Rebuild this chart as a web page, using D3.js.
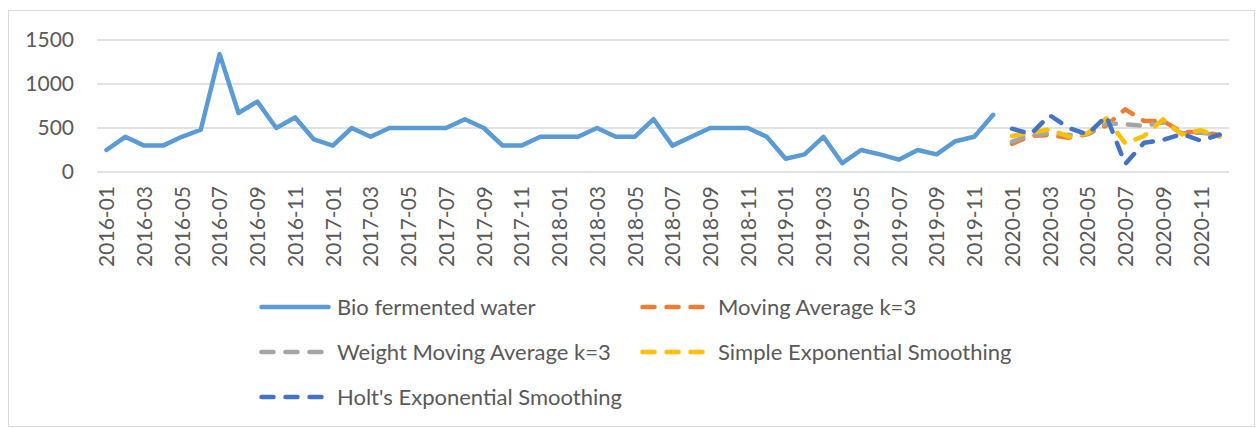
<!DOCTYPE html>
<html>
<head>
<meta charset="utf-8">
<script src="https://cdn.jsdelivr.net/npm/d3@7"></script>
<style>
  html, body { margin: 0; padding: 0; background: #fff; }
  svg { display: block; }
  text { font-family: Lato, "Open Sans", sans-serif; fill: #595959; }
</style>
</head>
<body>
<svg id="chart" width="1257" height="428"></svg>
<script>
// ---- data ----
const months = [];
for (let y = 2016; y <= 2020; y++) for (let m = 1; m <= 12; m++) months.push(y + "-" + String(m).padStart(2, "0"));

const bioMonths = months.slice(0, 48);
const bioValues = [250, 400, 300, 300, 400, 480, 1340, 670, 800, 500, 620, 370,
                   300, 500, 400, 500, 500, 500, 500, 600, 500, 300, 300, 400,
                   400, 400, 500, 400, 400, 600, 300, 400, 500, 500, 500, 400,
                   150, 200, 400, 100, 250, 200, 140, 250, 200, 350, 400, 650];

const forecastMonths = months.slice(48);
const maValues   = [320, 410, 420, 390, 430, 530, 712, 580, 580, 455, 455, 420];
const wmaValues  = [345, 420, 440, 420, 432, 553, 542, 523, 564, 439, 447, 420];
const sesValues  = [410, 447, 485, 401, 440, 610, 326, 409, 598, 428, 477, 401];
const holtValues = [492, 432, 645, 500, 428, 636, 91, 333, 364, 432, 356, 425];

const yTicks = [0, 500, 1000, 1500];
const xTickLabels = months.filter((d, i) => i % 2 === 0);

const seriesNames = ["Bio fermented water", "Moving Average k=3", "Weight Moving Average k=3",
                     "Simple Exponential Smoothing", "Holt's Exponential Smoothing"];
const seriesColors = ["#5b9bd5", "#ed7d31", "#a5a5a5", "#ffc000", "#4472c4"];

// ---- chart ----
const svg = d3.select("#chart");

svg.append("rect").attr("x", 8.5).attr("y", 10.5).attr("width", 1246).attr("height", 416)
  .attr("fill", "#fff").attr("stroke", "#d9d9d9").attr("stroke-width", 1);

const x = d3.scalePoint().domain(months).range([97, 1229]).padding(0.5);
const y = d3.scaleLinear().domain([0, 1500]).range([172, 40]);

// gridlines
svg.append("g").selectAll("line").data(yTicks).join("line")
  .attr("x1", 97).attr("x2", 1229)
  .attr("y1", d => y(d)).attr("y2", d => y(d))
  .attr("stroke", "#d9d9d9").attr("stroke-width", 1.5);

// y axis labels
const yAxis = d3.axisLeft(y).tickValues(yTicks).tickFormat(d3.format("d")).tickSize(0).tickPadding(0);
const gy = svg.append("g").attr("transform", "translate(74,0)").call(yAxis);
gy.select(".domain").remove();
gy.selectAll("text").attr("font-size", 21).attr("fill", "#595959")
  .style("font-family", "Lato, 'Open Sans', sans-serif");

// x axis labels
const xAxis = d3.axisBottom(x).tickValues(xTickLabels).tickSize(0).tickPadding(0);
const gx = svg.append("g").attr("transform", "translate(0,186)").call(xAxis);
gx.select(".domain").remove();
gx.selectAll("text")
  .attr("font-size", 21).attr("fill", "#595959")
  .style("font-family", "Lato, 'Open Sans', sans-serif")
  .attr("text-anchor", "end")
  .attr("dy", "0.35em")
  .attr("y", 0)
  .attr("transform", "rotate(-90)");

// lines
const line = d3.line().x(d => x(d[0])).y(d => y(d[1]));
const allSeries = [
  d3.zip(bioMonths, bioValues),
  d3.zip(forecastMonths, maValues),
  d3.zip(forecastMonths, wmaValues),
  d3.zip(forecastMonths, sesValues),
  d3.zip(forecastMonths, holtValues)
];
allSeries.forEach((data, i) => {
  svg.append("path").datum(data)
    .attr("d", line)
    .attr("fill", "none")
    .attr("stroke", seriesColors[i])
    .attr("stroke-width", 4.5)
    .attr("stroke-linejoin", "round")
    .attr("stroke-linecap", "round")
    .attr("stroke-dasharray", i === 0 ? null : "12,12");
});

// legend
const legendPos = [[259, 307], [640, 307], [259, 352], [640, 352], [259, 397]];
seriesNames.forEach((name, i) => {
  const [lx, ly] = legendPos[i];
  const g = svg.append("g").attr("transform", `translate(${lx},${ly})`);
  g.append("line").attr("x1", 2.5).attr("x2", 69.5).attr("y1", 0).attr("y2", 0)
    .attr("stroke", seriesColors[i]).attr("stroke-width", 4.5)
    .attr("stroke-linecap", "round")
    .attr("stroke-dasharray", i === 0 ? null : "12,12");
  g.append("text").attr("x", 78).attr("y", 0).attr("dy", "0.35em")
    .attr("font-size", 22).text(name);
});
</script>
</body>
</html>
